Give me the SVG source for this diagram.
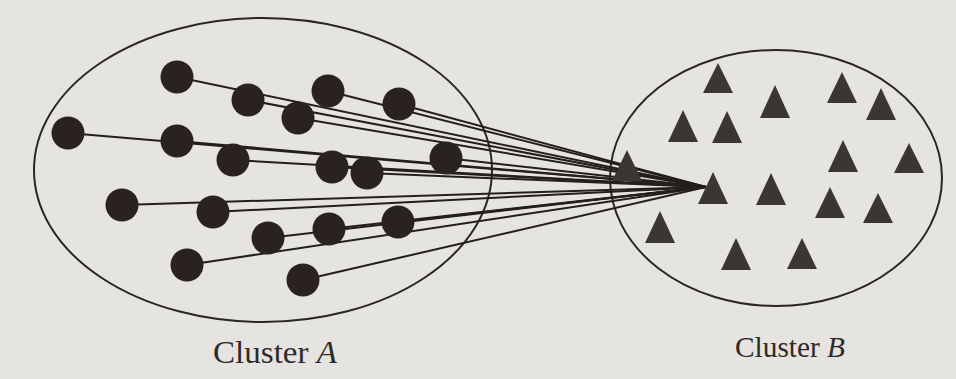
<svg xmlns="http://www.w3.org/2000/svg" width="956" height="379" viewBox="0 0 956 379">
<style>
.bg{fill:#e6e4e0}
.cluster{fill:none;stroke:#2a2624;stroke-width:2}
.dot{fill:#2a2220}
.tri{fill:#3a3634}
.edge{stroke:#231f1d;stroke-width:2;fill:none}
.lbl{font-family:"Liberation Serif","Times New Roman",serif;fill:#2e2a28}
</style>
<rect class="bg" x="0" y="0" width="956" height="379"/>
<g id="clusterA"><ellipse class="cluster" cx="263" cy="170" rx="229" ry="152"/></g>
<g id="clusterB"><ellipse class="cluster" cx="776" cy="178" rx="166" ry="128"/></g>
<g id="connectors">
<line class="edge" x1="177" y1="77" x2="706" y2="187"/>
<line class="edge" x1="248" y1="100" x2="706" y2="187"/>
<line class="edge" x1="328" y1="91" x2="706" y2="187"/>
<line class="edge" x1="399" y1="104" x2="706" y2="187"/>
<line class="edge" x1="298" y1="118" x2="706" y2="187"/>
<line class="edge" x1="68" y1="133" x2="706" y2="187"/>
<line class="edge" x1="177" y1="141" x2="706" y2="187"/>
<line class="edge" x1="233" y1="160" x2="706" y2="187"/>
<line class="edge" x1="332" y1="167" x2="706" y2="187"/>
<line class="edge" x1="367" y1="173" x2="706" y2="187"/>
<line class="edge" x1="446" y1="158" x2="706" y2="187"/>
<line class="edge" x1="122" y1="205" x2="706" y2="187"/>
<line class="edge" x1="213" y1="212" x2="706" y2="187"/>
<line class="edge" x1="268" y1="238" x2="706" y2="187"/>
<line class="edge" x1="329" y1="229" x2="706" y2="187"/>
<line class="edge" x1="398" y1="222" x2="706" y2="187"/>
<line class="edge" x1="187" y1="265" x2="706" y2="187"/>
<line class="edge" x1="303" y1="280" x2="706" y2="187"/>
</g>
<g id="a1"><circle class="dot" cx="177" cy="77" r="16.5"/></g>
<g id="a2"><circle class="dot" cx="248" cy="100" r="16.5"/></g>
<g id="a3"><circle class="dot" cx="328" cy="91" r="16.5"/></g>
<g id="a4"><circle class="dot" cx="399" cy="104" r="16.5"/></g>
<g id="a5"><circle class="dot" cx="298" cy="118" r="16.5"/></g>
<g id="a6"><circle class="dot" cx="68" cy="133" r="16.5"/></g>
<g id="a7"><circle class="dot" cx="177" cy="141" r="16.5"/></g>
<g id="a8"><circle class="dot" cx="233" cy="160" r="16.5"/></g>
<g id="a9"><circle class="dot" cx="332" cy="167" r="16.5"/></g>
<g id="a10"><circle class="dot" cx="367" cy="173" r="16.5"/></g>
<g id="a11"><circle class="dot" cx="446" cy="158" r="16.5"/></g>
<g id="a12"><circle class="dot" cx="122" cy="205" r="16.5"/></g>
<g id="a13"><circle class="dot" cx="213" cy="212" r="16.5"/></g>
<g id="a14"><circle class="dot" cx="268" cy="238" r="16.5"/></g>
<g id="a15"><circle class="dot" cx="329" cy="229" r="16.5"/></g>
<g id="a16"><circle class="dot" cx="398" cy="222" r="16.5"/></g>
<g id="a17"><circle class="dot" cx="187" cy="265" r="16.5"/></g>
<g id="a18"><circle class="dot" cx="303" cy="280" r="16.5"/></g>
<g id="b1"><polygon class="tri" points="718,63 703,93 733,93"/></g>
<g id="b2"><polygon class="tri" points="775,85 760,118 790,118"/></g>
<g id="b3"><polygon class="tri" points="842,72 827,103 857,103"/></g>
<g id="b4"><polygon class="tri" points="881,88 866,120 896,120"/></g>
<g id="b5"><polygon class="tri" points="683,110 668,142 698,142"/></g>
<g id="b6"><polygon class="tri" points="727,111 712,143 742,143"/></g>
<g id="b7"><polygon class="tri" points="627,150 612,181 642,181"/></g>
<g id="b8"><polygon class="tri" points="843,140 828,172 858,172"/></g>
<g id="b9"><polygon class="tri" points="909,143 894,173 924,173"/></g>
<g id="b10"><polygon class="tri" points="713,172 698,204 728,204"/></g>
<g id="b11"><polygon class="tri" points="771,173 756,205 786,205"/></g>
<g id="b12"><polygon class="tri" points="830,187 815,218 845,218"/></g>
<g id="b13"><polygon class="tri" points="878,193 863,223 893,223"/></g>
<g id="b14"><polygon class="tri" points="660,211 645,243 675,243"/></g>
<g id="b15"><polygon class="tri" points="736,238 721,270 751,270"/></g>
<g id="b16"><polygon class="tri" points="802,238 787,269 817,269"/></g>
<text class="lbl" x="213" y="363" font-size="31" textLength="124" lengthAdjust="spacingAndGlyphs">Cluster <tspan font-style="italic">A</tspan></text>
<text class="lbl" x="735" y="357" font-size="29" textLength="110" lengthAdjust="spacingAndGlyphs">Cluster <tspan font-style="italic">B</tspan></text>
</svg>
